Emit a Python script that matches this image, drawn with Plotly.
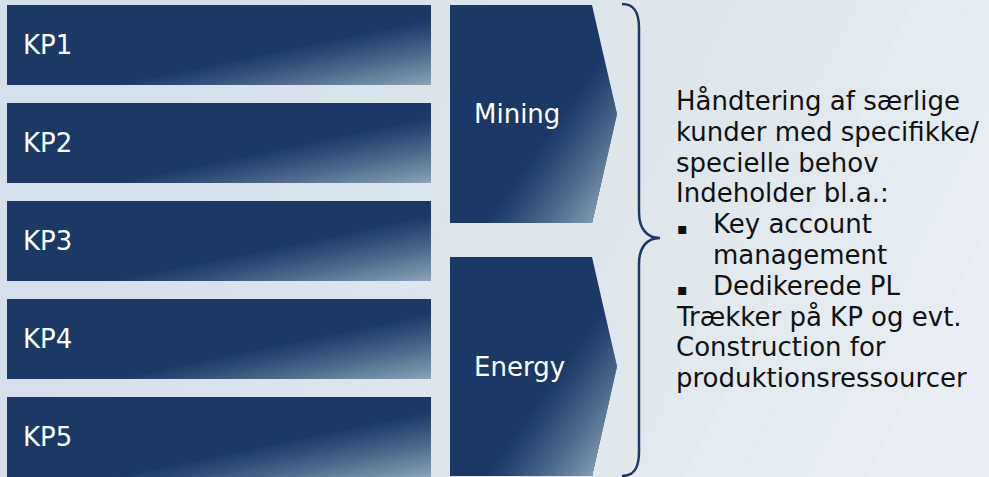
import plotly.graph_objects as go

W, H = 989, 477

# left column boxes
kp_labels = ["KP1", "KP2", "KP3", "KP4", "KP5"]
kp_tops = [5, 103, 201, 299, 397]
kp_height = 80

# business segments (arrows)
seg_labels = ["Mining", "Energy"]
seg_tops = [5, 257]
seg_bottoms = [223, 476]

# description text on the right
desc_text = [
    "Håndtering af særlige",
    "kunder med specifikke/",
    "specielle behov",
    "Indeholder bl.a.:",
    "Key account",
    "management",
    "Dedikerede PL",
    "Trækker på KP og evt.",
    "Construction for",
    "produktionsressourcer",
]
desc_indent = [0, 0, 0, 0, 1, 1, 1, 0, 0, 0]
desc_bullet = [0, 0, 0, 0, 1, 0, 1, 0, 0, 0]

NAVY = "#1b3867"
LIGHT = "#8aa4b9"
BG_DARK = "#d3e0ea"
BG_LIGHT = "#e9eff5"
FONT = "DejaVu Sans"
FS = 26


def clip(poly, n, c):
    # keep the part of poly where dot(p, n) >= c
    out = []
    for i in range(len(poly)):
        p, q = poly[i], poly[(i + 1) % len(poly)]
        dp = p[0] * n[0] + p[1] * n[1] - c
        dq = q[0] * n[0] + q[1] * n[1] - c
        if dp >= 0:
            out.append(p)
        if (dp >= 0) != (dq >= 0):
            t = dp / (dp - dq)
            out.append((p[0] + t * (q[0] - p[0]), p[1] + t * (q[1] - p[1])))
    return out


def to_path(poly):
    return "M " + " L ".join(f"{x:.2f},{y:.2f}" for x, y in poly) + " Z"


def gradient_shapes(poly, p0, nvec, dark, light, steps=30):
    # base fill + stacked translucent layers -> linear gradient beyond a line
    ln = (nvec[0] ** 2 + nvec[1] ** 2) ** 0.5
    n = (nvec[0] / ln, nvec[1] / ln)
    c0 = p0[0] * n[0] + p0[1] * n[1]
    cmax = max(v[0] * n[0] + v[1] * n[1] for v in poly)
    shapes = [dict(type="path", path=to_path(poly), fillcolor=dark,
                   line=dict(width=0), layer="below")]
    for j in range(1, steps + 1):
        c = c0 + (cmax - c0) * (j - 1) / steps
        sub = clip(poly, n, c)
        if len(sub) < 3:
            continue
        shapes.append(dict(type="path", path=to_path(sub), fillcolor=light,
                           opacity=1.0 / (steps - j + 1),
                           line=dict(width=0), layer="below"))
    return shapes


shapes = []

# background
bg = [(0, 0), (W, 0), (W, H), (0, H)]
shapes += gradient_shapes(bg, (0, 0), (W, H), BG_DARK, BG_LIGHT, steps=20)

# KP boxes
for top in kp_tops:
    poly = [(7, top), (431, top), (431, top + kp_height), (7, top + kp_height)]
    shapes += gradient_shapes(poly, (117, top + kp_height), (65, 314), NAVY, LIGHT)

# segment arrows
for top, bot in zip(seg_tops, seg_bottoms):
    mid = (top + bot) / 2
    poly = [(450, top), (592, top), (617, mid), (592, bot), (450, bot)]
    shapes += gradient_shapes(poly, (487, bot), (93, 66), NAVY, "#7e9ab0")

# curly brace
shapes.append(dict(
    type="path",
    path=("M 622,4 C 634,4 639,12 639,28 L 639,212 C 639,229 647,238 660,238 "
          "C 647,238 639,247 639,264 L 639,452 C 639,468 634,476 622,476"),
    line=dict(color=NAVY, width=2.5), layer="above"))

annotations = []
for lab, top in zip(kp_labels, kp_tops):
    annotations.append(dict(x=21, y=top + kp_height / 2, text=lab, showarrow=False,
                            xanchor="left", yanchor="middle",
                            font=dict(family=FONT, size=FS, color="white")))
for lab, top, bot in zip(seg_labels, seg_tops, seg_bottoms):
    annotations.append(dict(x=472, y=(top + bot) / 2, text=lab, showarrow=False,
                            xanchor="left", yanchor="middle",
                            font=dict(family=FONT, size=FS, color="white")))

for i, (txt, ind, bul) in enumerate(zip(desc_text, desc_indent, desc_bullet)):
    y = 101 + 30.8 * i
    annotations.append(dict(x=674 + 37 * ind, y=y, text=txt, showarrow=False,
                            xanchor="left", yanchor="middle",
                            font=dict(family=FONT, size=FS, color="#111111")))
    if bul:
        annotations.append(dict(x=675, y=y + 4, text="▪", showarrow=False,
                                xanchor="left", yanchor="middle",
                                font=dict(family=FONT, size=16, color="#111111")))

fig = go.Figure()
fig.update_layout(
    width=W, height=H,
    margin=dict(l=0, r=0, t=0, b=0),
    paper_bgcolor=BG_DARK, plot_bgcolor="rgba(0,0,0,0)",
    xaxis=dict(range=[0, W], visible=False, fixedrange=True),
    yaxis=dict(range=[H, 0], visible=False, fixedrange=True),
    shapes=shapes, annotations=annotations,
    showlegend=False,
)

fig.write_html("out.html", config={"displayModeBar": False},
               post_script="document.body.style.margin='0';")
